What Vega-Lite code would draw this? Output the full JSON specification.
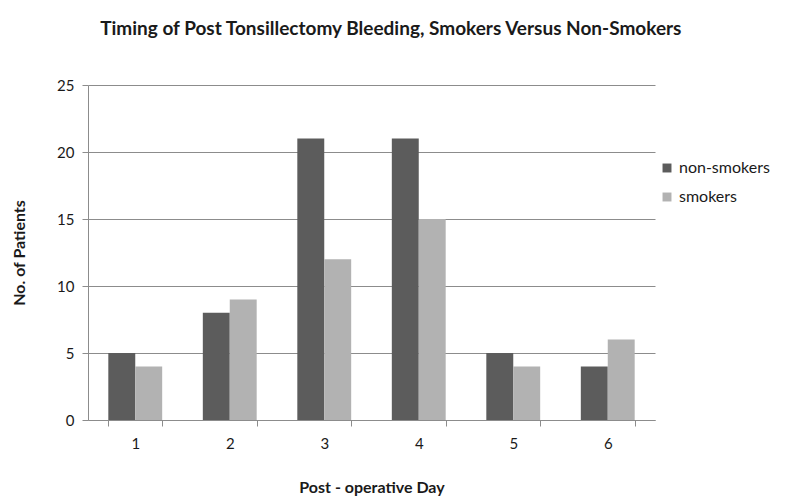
{
  "$schema": "https://vega.github.io/schema/vega-lite/v6.json",
  "autosize": "none",
  "width": 567,
  "height": 335,
  "padding": {"left": 88, "top": 85, "right": 145, "bottom": 79},
  "background": "white",
  "title": {
    "text": "Timing of Post Tonsillectomy Bleeding, Smokers Versus Non-Smokers",
    "font": "Lato",
    "fontSize": 19,
    "fontWeight": "bold",
    "color": "#1a1a1a",
    "anchor": "middle",
    "frame": "bounds",
    "offset": 39
  },
  "data": {
    "values": [
      {"day": "1", "group": "non-smokers", "patients": 5},
      {"day": "1", "group": "smokers", "patients": 4},
      {"day": "2", "group": "non-smokers", "patients": 8},
      {"day": "2", "group": "smokers", "patients": 9},
      {"day": "3", "group": "non-smokers", "patients": 21},
      {"day": "3", "group": "smokers", "patients": 12},
      {"day": "4", "group": "non-smokers", "patients": 21},
      {"day": "4", "group": "smokers", "patients": 15},
      {"day": "5", "group": "non-smokers", "patients": 5},
      {"day": "5", "group": "smokers", "patients": 4},
      {"day": "6", "group": "non-smokers", "patients": 4},
      {"day": "6", "group": "smokers", "patients": 6}
    ]
  },
  "mark": {"type": "bar"},
  "encoding": {
    "x": {
      "field": "day",
      "type": "nominal",
      "scale": {"paddingInner": 0.43, "paddingOuter": 0.215},
      "axis": {
        "title": "Post - operative Day",
        "titleFont": "Lato",
        "titleFontSize": 16,
        "titleFontWeight": "bold",
        "titleColor": "#1a1a1a",
        "titlePadding": 28,
        "labelAngle": 0,
        "labelFont": "Lato",
        "labelFontSize": 15,
        "labelColor": "#1a1a1a",
        "labelPadding": 10,
        "tickBand": "extent",
        "tickSize": 6,
        "tickColor": "#8c8c8c",
        "domainColor": "#8c8c8c",
        "grid": false
      }
    },
    "xOffset": {"field": "group", "type": "nominal", "sort": ["non-smokers", "smokers"]},
    "y": {
      "field": "patients",
      "type": "quantitative",
      "scale": {"domain": [0, 25], "nice": false},
      "axis": {
        "title": "No. of Patients",
        "titleFont": "Lato",
        "titleFontSize": 16,
        "titleFontWeight": "bold",
        "titleColor": "#1a1a1a",
        "titlePadding": 29,
        "values": [0, 5, 10, 15, 20, 25],
        "labelFont": "Lato",
        "labelFontSize": 15,
        "labelColor": "#1a1a1a",
        "labelPadding": 8,
        "tickSize": 6,
        "tickColor": "#8c8c8c",
        "domainColor": "#8c8c8c",
        "grid": true,
        "gridColor": "#8c8c8c",
        "gridWidth": 1
      }
    },
    "color": {
      "field": "group",
      "type": "nominal",
      "scale": {"domain": ["non-smokers", "smokers"], "range": ["#5c5c5c", "#b2b2b2"]},
      "legend": {
        "title": null,
        "orient": "none",
        "legendX": 571,
        "legendY": 75,
        "symbolType": "square",
        "symbolSize": 80,
        "symbolStrokeWidth": 0,
        "labelFont": "Lato",
        "labelFontSize": 16,
        "labelColor": "#1a1a1a",
        "rowPadding": 13,
        "labelOffset": 4
      }
    }
  },
  "config": {
    "view": {"stroke": null}
  }
}
